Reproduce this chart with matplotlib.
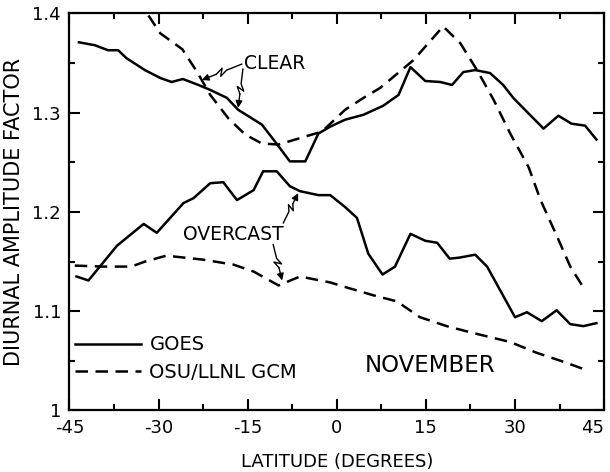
import numpy as np
import matplotlib.pyplot as plt
from matplotlib.ticker import FixedLocator, FixedFormatter, MultipleLocator

# GOES, clear sky
lat_goes_clear = [-43.4, -40.7, -38.5, -36.8, -35.4, -32.3, -29.7, -27.8, -25.9, -23.3,
                  -21.3, -18.5, -16.6, -12.6, -10.4, -7.9, -5.3, -3.1, -1.1, 1.4,
                  4.5, 7.8, 10.4, 12.4, 14.9, 17.4, 19.4, 21.3, 23.3, 25.8,
                  28.0, 29.7, 34.8, 37.3, 39.5, 41.8, 43.7]
goes_clear = [1.371, 1.368, 1.363, 1.363, 1.355, 1.343, 1.335, 1.331, 1.334, 1.328,
              1.323, 1.315, 1.303, 1.288, 1.271, 1.251, 1.251, 1.279, 1.286, 1.293,
              1.298, 1.307, 1.318, 1.346, 1.332, 1.331, 1.328, 1.341, 1.343, 1.340,
              1.328, 1.315, 1.284, 1.297, 1.289, 1.287, 1.273]

# OSU/LLNL GCM, clear sky
lat_gcm_clear = [-31.7, -29.7, -26.0, -23.5, -21.3, -18.2, -15.4, -12.6, -9.8, -7.0,
                 -2.5, 1.4, 4.5, 7.3, 12.9, 17.9, 20.8, 23.6, 26.4, 29.2,
                 32.3, 34.3, 37.1, 39.3, 41.4]
gcm_clear = [1.398, 1.380, 1.364, 1.341, 1.318, 1.294, 1.278, 1.269, 1.268, 1.273,
             1.281, 1.303, 1.315, 1.325, 1.353, 1.387, 1.370, 1.343, 1.313, 1.279,
             1.245, 1.212, 1.175, 1.145, 1.125]

# GOES, overcast
lat_goes_over = [-43.8, -41.8, -37.0, -32.5, -30.3, -25.8, -24.1, -21.3, -19.1, -16.8,
                 -14.0, -12.4, -10.1, -7.9, -6.2, -3.1, -1.1, 1.4, 3.4, 5.3,
                 7.7, 9.8, 12.4, 14.9, 16.9, 19.0, 20.6, 23.3, 25.3, 30.0,
                 32.0, 34.5, 37.0, 39.3, 41.5, 43.7]
goes_over = [1.135, 1.131, 1.166, 1.188, 1.179, 1.209, 1.214, 1.229, 1.230, 1.212,
             1.222, 1.241, 1.241, 1.226, 1.221, 1.217, 1.217, 1.205, 1.194, 1.158,
             1.137, 1.145, 1.178, 1.171, 1.169, 1.153, 1.154, 1.157, 1.145, 1.094,
             1.099, 1.090, 1.101, 1.087, 1.085, 1.088]

# OSU/LLNL GCM, overcast
lat_gcm_over = [-44.1, -39.3, -34.6, -32.3, -28.7, -22.5, -17.4, -14.0, -9.8, -6.2,
                -1.1, 2.2, 6.2, 10.1, 14.0, 18.5, 23.0, 29.2, 33.7, 38.2, 41.9]
gcm_over = [1.146, 1.145, 1.145, 1.150, 1.156, 1.152, 1.147, 1.140, 1.126, 1.135,
            1.129, 1.123, 1.116, 1.110, 1.094, 1.085, 1.078, 1.069, 1.058, 1.049, 1.041]

xticks = [-45, -30, -15, 0, 15, 30, 45]
xlabels = ['-45', '-30', '-15', '0', '15', '30', '45']
yticks = [1.0, 1.1, 1.2, 1.3, 1.4]
ylabels = ['1', '1.1', '1.2', '1.3', '1.4']

fig = plt.figure(figsize=(6.1, 4.72), dpi=100)
ax = fig.add_axes([0.1138, 0.1303, 0.8766, 0.8411])

lw = 1.8
dash = (5, 3)
ax.plot(lat_goes_clear, goes_clear, 'k-', lw=lw, label='GOES')
ax.plot(lat_gcm_clear, gcm_clear, 'k--', lw=lw, dashes=dash, label='OSU/LLNL GCM')
ax.plot(lat_goes_over, goes_over, 'k-', lw=lw)
ax.plot(lat_gcm_over, gcm_over, 'k--', lw=lw, dashes=dash)

ax.set_xlim(-45, 45)
ax.set_ylim(1.0, 1.4)
ax.xaxis.set_major_locator(FixedLocator(xticks))
ax.xaxis.set_major_formatter(FixedFormatter(xlabels))
ax.xaxis.set_minor_locator(MultipleLocator(7.5))
ax.yaxis.set_major_locator(FixedLocator(yticks))
ax.yaxis.set_major_formatter(FixedFormatter(ylabels))
ax.yaxis.set_minor_locator(MultipleLocator(0.05))
ax.tick_params(which='both', direction='in', top=True, right=True, width=1.5,
               labelsize=13, pad=6)
ax.tick_params(which='major', length=8)
ax.tick_params(which='minor', length=4.5)
for s in ax.spines.values():
    s.set_linewidth(1.6)
xt = ax.get_xticklabels()
xt[-1].set_horizontalalignment('right')
xt[-1].set_x(45.5)

ax.set_xlabel('LATITUDE (DEGREES)', fontsize=13, labelpad=12)
ax.set_ylabel('DIURNAL AMPLITUDE FACTOR', fontsize=15, labelpad=6)


def bolt(start, end):
    # line with a small lightning-bolt kink, ending in an arrow head
    p0 = ax.transData.transform(start)
    p1 = ax.transData.transform(end)
    d = p1 - p0
    n = np.array([-d[1], d[0]]) / np.hypot(*d)
    pts = [p0, p0 + 0.38 * d, p0 + 0.56 * d + 3.5 * n, p0 + 0.46 * d - 3.5 * n,
           p0 + 0.64 * d]
    pts = ax.transData.inverted().transform(np.array(pts))
    ax.plot(pts[:, 0], pts[:, 1], 'k-', lw=1.0)
    ax.annotate('', xy=end, xytext=tuple(pts[-1]),
                arrowprops=dict(arrowstyle='-|>', color='k', lw=1.0,
                                mutation_scale=10, shrinkA=0, shrinkB=0))


ax.text(-10.4, 1.350, 'CLEAR', fontsize=13.5, ha='center', va='center')
bolt((-16.0, 1.349), (-22.7, 1.333))
bolt((-15.8, 1.344), (-16.6, 1.305))
ax.text(-17.4, 1.177, 'OVERCAST', fontsize=13.5, ha='center', va='center')
bolt((-9.0, 1.189), (-6.5, 1.219))
bolt((-10.7, 1.167), (-9.2, 1.131))
ax.text(15.7, 1.045, 'NOVEMBER', fontsize=16.5, ha='center', va='center')

ax.legend(loc='lower left', bbox_to_anchor=(-0.005, 0.052), frameon=False,
          fontsize=14, handlelength=3.4, handletextpad=0.45, labelspacing=0.45,
          borderaxespad=0)

fig.savefig('out.png', dpi=100)
